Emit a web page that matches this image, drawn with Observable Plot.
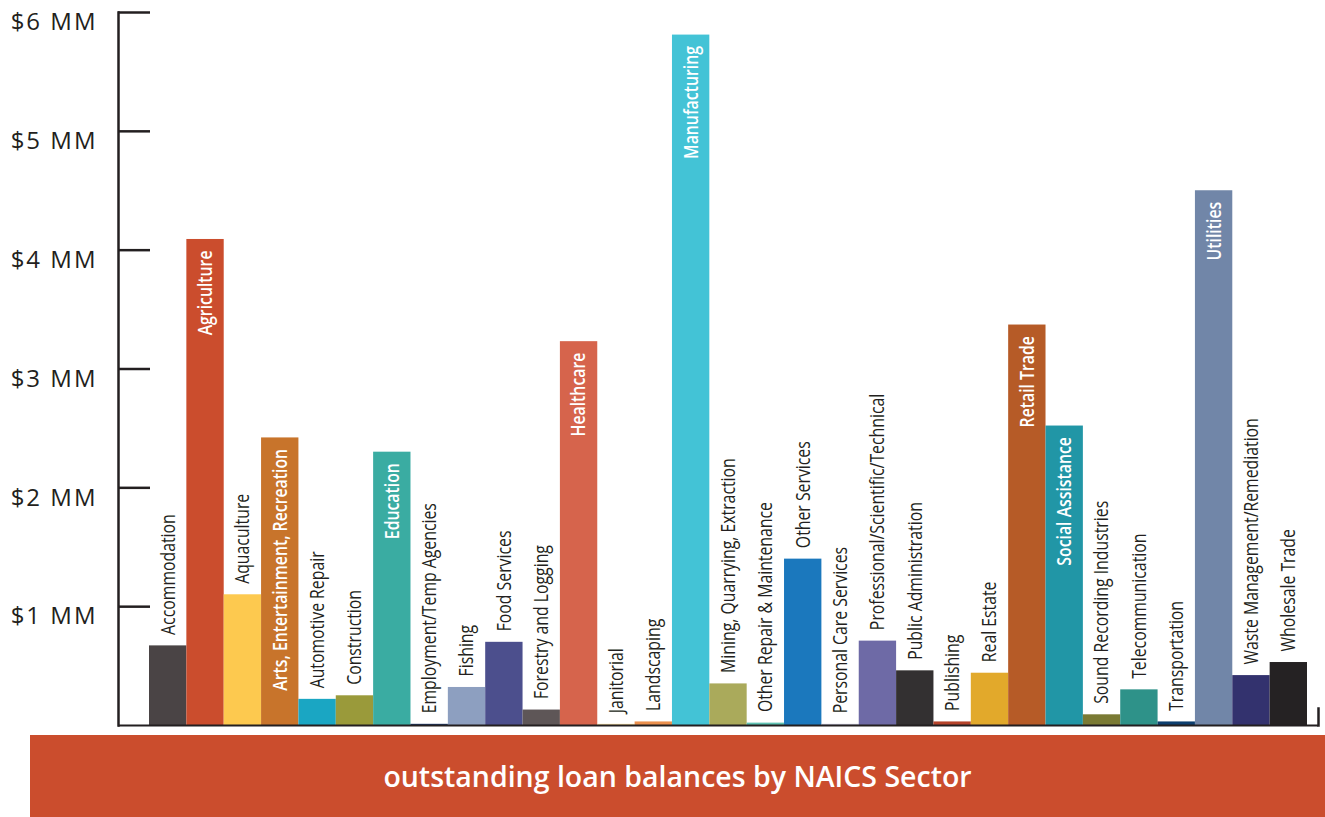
<!DOCTYPE html>
<html>
<head>
<meta charset="utf-8">
<script src="https://cdn.jsdelivr.net/npm/d3@7"></script>
<script src="https://cdn.jsdelivr.net/npm/@observablehq/plot@0.6"></script>
<style>
  html, body { margin: 0; padding: 0; background: #fff; }
  #chart svg { display: block; }
  #banner {
    margin-left: 30px; width: 1295px; height: 82px;
    background: #cb4d2d; color: #fff;
    font-family: "Open Sans", "Noto Sans", sans-serif; font-weight: 600;
    font-size: 28.5px; display: flex; align-items: center; justify-content: center;
  }
</style>
</head>
<body>
<div id="chart"></div>
<div id="banner"></div>
<script>
const categories = [
  "Accommodation", "Agriculture", "Aquaculture", "Arts, Entertainment, Recreation",
  "Automotive Repair", "Construction", "Education", "Employment/Temp Agencies",
  "Fishing", "Food Services", "Forestry and Logging", "Healthcare", "Janitorial",
  "Landscaping", "Manufacturing", "Mining, Quarrying, Extraction",
  "Other Repair & Maintenance", "Other Services", "Personal Care Services",
  "Professional/Scientific/Technical", "Public Administration", "Publishing",
  "Real Estate", "Retail Trade", "Social Assistance", "Sound Recording Industries",
  "Telecommunication", "Transportation", "Utilities",
  "Waste Management/Remediation", "Wholesale Trade"
];
// outstanding balances, $ millions
const values = [
  0.67, 4.09, 1.10, 2.42, 0.22, 0.25, 2.30, 0.01, 0.32, 0.70, 0.13, 3.23, 0.01,
  0.03, 5.81, 0.35, 0.02, 1.40, 0.01, 0.71, 0.46, 0.03, 0.44, 3.37, 2.52, 0.09,
  0.30, 0.03, 4.50, 0.42, 0.53
];
const colors = [
  "#4a4445", "#cb4d2d", "#fdc94f", "#c8742b", "#1aa6c3", "#9a9a3a", "#3aaca2",
  "#1e3a6e", "#8d9fc0", "#4c4f8d", "#5e5657", "#d6644c", "#fbe3a4", "#eb904e",
  "#43c3d6", "#aaaa5b", "#5fc3b3", "#1b78bd", "#c9c8dc", "#6e6aa6", "#333031",
  "#b5432a", "#e2a92b", "#b65b27", "#2196a6", "#7a7a34", "#2e9289", "#0c3e6e",
  "#7186a8", "#33326e", "#252223"
];
const insideLabelled = [
  "Agriculture", "Arts, Entertainment, Recreation", "Education", "Healthcare",
  "Manufacturing", "Retail Trade", "Social Assistance", "Utilities"
];
const yTicks = [1, 2, 3, 4, 5, 6];
const yTickLabels = ["$1 MM", "$2 MM", "$3 MM", "$4 MM", "$5 MM", "$6 MM"];
const title = "outstanding loan balances by NAICS Sector";

const data = categories.map((c, i) => ({
  category: c, value: values[i], color: colors[i], inside: insideLabelled.includes(c)
}));

const labelFont = '"Open Sans", "Noto Sans", sans-serif';

const chart = Plot.plot({
  width: 1325,
  height: 735,
  marginLeft: 118,
  marginRight: 7,
  marginTop: 12,
  marginBottom: 10,
  x: { domain: categories, padding: 0, round: false, insetLeft: 31, insetRight: 11, axis: null },
  y: { domain: [0, 6], axis: null },
  marks: [
    Plot.barY(data, { x: "category", y: "value", fill: "color" }),
    Plot.ruleY([0], { stroke: "#231f20", strokeWidth: 2 }),
    Plot.frame({ anchor: "left", stroke: "#231f20", strokeWidth: 2.5 }),
    Plot.frame({ anchor: "right", insetTop: 696, stroke: "#231f20", strokeWidth: 2.5 }),
    Plot.axisY(yTicks, { tickSize: -32, text: null, label: null, stroke: "#231f20", strokeWidth: 2.5 }),
    Plot.axisY(yTicks, {
      tickSize: 0, tickPadding: 21, dy: 10, label: null,
      tickFormat: (d) => yTickLabels[yTicks.indexOf(d)],
      fontSize: 24, fill: "#231f20",
      fontFamily: '"Open Sans", "Noto Sans", sans-serif'
    }),
    Plot.text(data.filter(d => !d.inside), {
      x: "category", y: "value", text: "category", rotate: -90,
      textAnchor: "start", lineAnchor: "middle", dy: -11,
      fontSize: 20, fontFamily: labelFont, fill: "#231f20",
      className: "bar-label"
    }),
    Plot.text(data.filter(d => d.inside), {
      x: "category", y: "value", text: "category", rotate: -90,
      textAnchor: "end", lineAnchor: "middle", dy: 11,
      fontSize: 20, fontWeight: 600, fontFamily: labelFont, fill: "#ffffff",
      className: "bar-label"
    })
  ]
});
document.getElementById("chart").append(chart);
// condensed look: compress bar labels along their length
chart.querySelectorAll(".bar-label text").forEach(t => {
  const L = t.getComputedTextLength();
  t.setAttribute("textLength", (L * 0.79).toFixed(1));
  t.setAttribute("lengthAdjust", "spacingAndGlyphs");
});
chart.querySelectorAll("[aria-label='y-axis tick label'] text").forEach(t => {
  t.style.letterSpacing = "2px";
});
document.getElementById("banner").textContent = title;
</script>
</body>
</html>
